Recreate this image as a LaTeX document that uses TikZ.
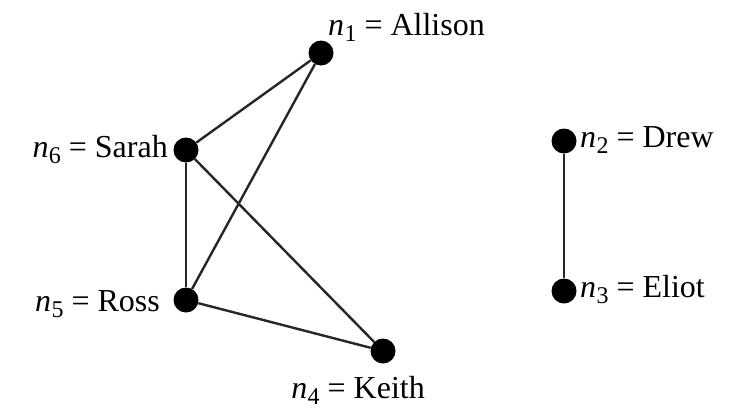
\documentclass[tikz,border=0pt]{standalone}
\usepackage{fontspec}
\setmainfont{Liberation Serif}
\newcommand{\nsub}[1]{\textit{n}\kern0.01em\raisebox{-0.2em}{\fontsize{24}{26}\selectfont #1}}
\begin{document}
\begin{tikzpicture}[x=1pt,y=-1pt,
  dot/.style={circle,fill=black,inner sep=0pt,minimum size=25pt},
  lbl/.style={inner sep=0pt,font=\fontsize{32}{38}\selectfont},
  edge/.style={line width=2.4pt,draw=black!85}]
\useasboundingbox (0,0) rectangle (735,410);
\node[dot] (n1) at (321,53) {};
\node[dot] (n6) at (186,150) {};
\node[dot] (n5) at (186,300) {};
\node[dot] (n4) at (383,351) {};
\node[dot] (n2) at (564,141) {};
\node[dot] (n3) at (564,291) {};
\node[lbl,anchor=base west] (l1) at (328,35) {\nsub{1} = Allison};
\node[lbl,anchor=base east] (l6) at (168,157) {\nsub{6} = Sarah};
\node[lbl,anchor=base east] (l5) at (160,311) {\nsub{5} = Ross};
\node[lbl,anchor=base east] (l4) at (425,398) {\nsub{4} = Keith};
\node[lbl,anchor=base west] (l2) at (580,147) {\nsub{2} = Drew};
\node[lbl,anchor=base west] (l3) at (580,297) {\nsub{3} = Eliot};
\draw[edge] (n1) -- (n6);
\draw[edge] (n1) -- (n5);
\draw[edge] (n6) -- (n5);
\draw[edge] (n6) -- (n4);
\draw[edge] (n5) -- (n4);
\draw[edge] (n2) -- (n3);
\end{tikzpicture}
\end{document}
